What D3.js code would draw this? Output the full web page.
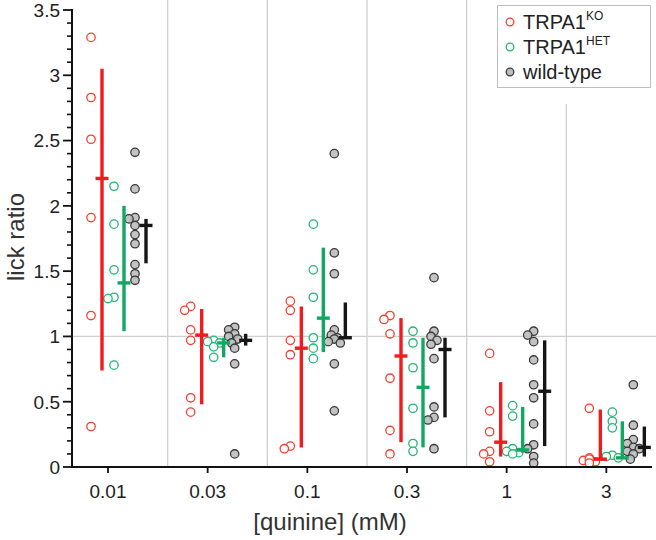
<!DOCTYPE html>
<html>
<head>
<meta charset="utf-8">
<script src="https://cdn.jsdelivr.net/npm/d3@7"></script>
<style>
  html, body { margin: 0; padding: 0; background: #fff; }
  svg { display: block; }
  text { font-family: "Liberation Sans", Arial, Helvetica, sans-serif; }
</style>
</head>
<body>
<div id="chart"></div>
<script>
// ---------------- data ----------------
const categories = ["0.01", "0.03", "0.1", "0.3", "1", "3"];
const yTicks = [0, 0.5, 1, 1.5, 2, 2.5, 3, 3.5];
const seriesNames = ["TRPA1|KO", "TRPA1|HET", "wild-type"];

const koPoints = [
  [3.29, 2.83, 2.51, 1.91, 1.16, 0.31],
  [1.23, 1.20, 1.05, 0.97, 0.53, 0.42],
  [1.27, 1.20, 0.97, 0.86, 0.16, 0.14],
  [1.16, 1.13, 1.02, 0.68, 0.28, 0.10],
  [0.87, 0.43, 0.27, 0.12, 0.10, 0.04],
  [0.45, 0.07, 0.05, 0.04, 0.06, 0.03]
];
const hetPoints = [
  [2.15, 1.86, 1.51, 1.30, 1.29, 0.78],
  [0.97, 0.96, 0.95, 0.92, 0.84],
  [1.86, 1.51, 1.30, 0.99, 0.91, 0.83],
  [1.04, 0.95, 0.76, 0.45, 0.18, 0.12],
  [0.47, 0.39, 0.14, 0.12, 0.11, 0.10],
  [0.42, 0.35, 0.30, 0.09, 0.08, 0.07]
];
const wtPoints = [
  [2.41, 2.13, 1.91, 1.90, 1.85, 1.78, 1.71, 1.55, 1.48, 1.43],
  [1.07, 1.05, 1.02, 1.00, 0.98, 0.95, 0.91, 0.79, 0.10],
  [2.40, 1.64, 1.48, 1.05, 1.01, 0.99, 0.98, 0.96, 0.95, 0.79, 0.43],
  [1.45, 1.04, 1.00, 0.97, 0.94, 0.83, 0.46, 0.38, 0.36, 0.14],
  [1.04, 1.01, 0.96, 0.82, 0.63, 0.53, 0.33, 0.17, 0.14, 0.08, 0.03],
  [0.63, 0.32, 0.21, 0.18, 0.15, 0.14, 0.12, 0.10, 0.06]
];

const koMedian = [2.21, 1.01, 0.91, 0.85, 0.19, 0.06];
const koLow    = [0.74, 0.48, 0.15, 0.19, 0.08, 0.05];
const koHigh   = [3.05, 1.21, 1.23, 1.14, 0.65, 0.44];
const hetMedian = [1.41, 0.95, 1.14, 0.61, 0.13, 0.07];
const hetLow    = [1.04, 0.84, 0.88, 0.15, 0.11, 0.07];
const hetHigh   = [2.00, 0.99, 1.68, 0.99, 0.46, 0.35];
const wtMedian = [1.85, 0.97, 0.99, 0.90, 0.58, 0.15];
const wtLow    = [1.56, 0.93, 0.99, 0.38, 0.16, 0.08];
const wtHigh   = [1.90, 1.02, 1.26, 0.99, 0.97, 0.31];

// ---------------- layout ----------------
const W = 656, H = 540;
const svg = d3.select("#chart").append("svg").attr("width", W).attr("height", H);

const x = d3.scaleBand().domain(categories).range([68, 666]).padding(0);
const tickOff = 40;
const y = d3.scaleLinear().domain([0, 3.5]).range([467, 10]);

const series = [
  { pts: koPoints, med: koMedian, lo: koLow, hi: koHigh, ptOff: -17, barOff: -6,
    stroke: "#f0412f", fill: "#ffffff", bar: "#ee1c1f" },
  { pts: hetPoints, med: hetMedian, lo: hetLow, hi: hetHigh, ptOff: 6, barOff: 16,
    stroke: "#22b574", fill: "#ffffff", bar: "#12a862" },
  { pts: wtPoints, med: wtMedian, lo: wtLow, hi: wtHigh, ptOff: 27, barOff: 38,
    stroke: "#3a3a3a", fill: "#bdbdbd", bar: "#151515" }
];

// gridlines
const grid = svg.append("g");
categories.slice(1).forEach(c => {
  grid.append("line")
    .attr("x1", x(c)).attr("x2", x(c))
    .attr("y1", 0).attr("y2", y(0))
    .attr("stroke", "#cfcfcf").attr("stroke-width", 1.3);
});
grid.append("line")
  .attr("x1", 72).attr("x2", W).attr("y1", y(1)).attr("y2", y(1))
  .attr("stroke", "#cfcfcf").attr("stroke-width", 1.3);

// legend background (hides gridline behind)
svg.append("rect").attr("x", 492).attr("y", 0).attr("width", 164).attr("height", 104).attr("fill", "#fff");

// points with simple dodge
const R = 4.2;
series.forEach(s => {
  const g = svg.append("g");
  s.pts.forEach((vals, gi) => {
    const cx0 = x(categories[gi]) + tickOff + s.ptOff;
    const placed = [];
    vals.forEach(v => {
      const py = y(v);
      const offs = [0, -3, 3, -6, 6];
      let chosen = offs[0];
      for (const o of offs) {
        const ok = placed.every(p => Math.hypot(p[0] - (cx0 + o), p[1] - py) >= 5.5);
        if (ok) { chosen = o; break; }
      }
      placed.push([cx0 + chosen, py]);
    });
    g.selectAll(null).data(placed).enter().append("circle")
      .attr("cx", d => d[0]).attr("cy", d => d[1]).attr("r", R)
      .attr("fill", s.fill).attr("fill-opacity", 0.9)
      .attr("stroke", s.stroke).attr("stroke-width", 1.3);
  });
});

// median + range bars
series.forEach(s => {
  const g = svg.append("g");
  categories.forEach((c, gi) => {
    const bx = x(c) + tickOff + s.barOff;
    g.append("line").attr("x1", bx).attr("x2", bx)
      .attr("y1", y(s.lo[gi])).attr("y2", y(s.hi[gi]))
      .attr("stroke", s.bar).attr("stroke-width", 3.4);
    g.append("line").attr("x1", bx - 6.5).attr("x2", bx + 6.5)
      .attr("y1", y(s.med[gi])).attr("y2", y(s.med[gi]))
      .attr("stroke", s.bar).attr("stroke-width", 3.4);
  });
});

// y axis
const yAxis = svg.append("g").attr("transform", "translate(72,0)");
yAxis.append("line").attr("x1", 0).attr("x2", 0).attr("y1", y(3.5) - 1).attr("y2", y(0) + 1)
  .attr("stroke", "#111").attr("stroke-width", 2);
const minor = d3.range(0, 35).map(i => i / 10).filter(v => Math.abs(v * 2 - Math.round(v * 2)) > 1e-6);
yAxis.selectAll(".mi").data(minor).enter().append("line")
  .attr("x1", -5).attr("x2", 0).attr("y1", d => y(d)).attr("y2", d => y(d))
  .attr("stroke", "#111").attr("stroke-width", 1.6);
yAxis.selectAll(".ma").data(yTicks).enter().append("line")
  .attr("x1", -9).attr("x2", 0).attr("y1", d => y(d)).attr("y2", d => y(d))
  .attr("stroke", "#111").attr("stroke-width", 1.8);
yAxis.selectAll(".lb").data(yTicks).enter().append("text")
  .attr("x", -12).attr("y", d => y(d)).attr("dy", "0.36em")
  .attr("text-anchor", "end").attr("font-size", 19).attr("fill", "#222")
  .text(d => d3.format("")(d));

// x axis
const xAxis = svg.append("g").attr("transform", `translate(0,${y(0)})`);
xAxis.append("line").attr("x1", 71).attr("x2", 652).attr("y1", 0).attr("y2", 0)
  .attr("stroke", "#111").attr("stroke-width", 2.2);
xAxis.selectAll(".xt").data(categories).enter().append("line")
  .attr("x1", d => x(d) + tickOff).attr("x2", d => x(d) + tickOff)
  .attr("y1", 0).attr("y2", 6).attr("stroke", "#111").attr("stroke-width", 1.8);
xAxis.selectAll(".xl").data(categories).enter().append("text")
  .attr("x", d => x(d) + tickOff).attr("y", 31)
  .attr("text-anchor", "middle").attr("font-size", 19).attr("fill", "#222")
  .text(d => d);

// axis titles
svg.append("text").attr("x", 330).attr("y", 530).attr("text-anchor", "middle")
  .attr("font-size", 24).attr("fill", "#333").text("[quinine] (mM)");
svg.append("text").attr("transform", "translate(24,237) rotate(-90)")
  .attr("text-anchor", "middle").attr("font-size", 24).attr("fill", "#333").text("lick ratio");

// legend
const lg = svg.append("g");
lg.append("rect").attr("x", 497.5).attr("y", 5.5).attr("width", 153).attr("height", 82)
  .attr("fill", "#fff").attr("stroke", "#bdbdbd").attr("stroke-width", 1);
seriesNames.forEach((name, i) => {
  const s = series[i];
  const ry = 22 + i * 25;
  lg.append("circle").attr("cx", 510).attr("cy", ry).attr("r", 3.8)
    .attr("fill", s.fill).attr("stroke", s.stroke).attr("stroke-width", 1.3);
  const t = lg.append("text").attr("x", 523).attr("y", ry).attr("dy", "0.35em")
    .attr("font-size", 20).attr("fill", "#222");
  const parts = name.split("|");
  t.append("tspan").text(parts[0]);
  if (parts[1]) {
    t.append("tspan").attr("font-size", 12).attr("dy", "-0.75em").text(parts[1]);
  }
});
</script>
</body>
</html>
